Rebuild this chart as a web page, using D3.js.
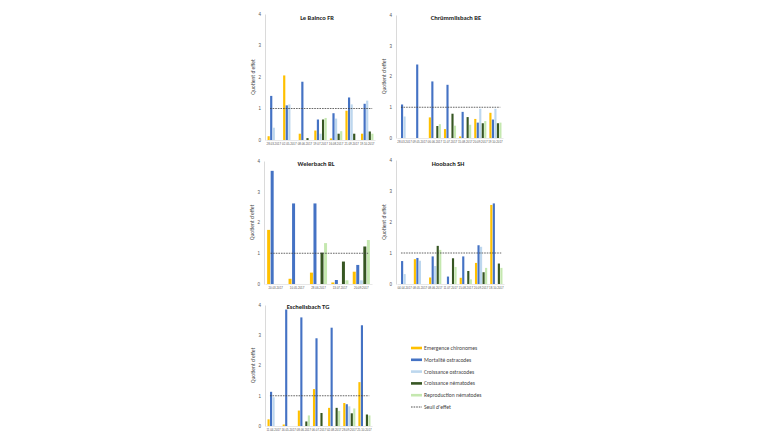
<!DOCTYPE html>
<html><head><meta charset="utf-8">
<script src="https://cdn.jsdelivr.net/npm/d3@7"></script>
<style>body{margin:0;background:#fff;}svg{display:block;font-family:Calibri,Carlito,"Liberation Sans",Arial,sans-serif;}</style>
</head><body>
<svg id="c" width="760" height="440"></svg>
<script>
const seriesNames = ["Emergence chironomes","Mortalité ostracodes","Croissance ostracodes","Croissance nématodes","Reproduction nématodes"];
const seriesColors = ["#FFC000","#4472C4","#BDD7EE","#375623","#C5E8B0"];
const yTicks = [0,1,2,3,4];
const threshold = 1;

const baincoDates = ["28.03.2017","02.05.2017","08.06.2017","19.07.2017","16.08.2017","21.09.2017","19.10.2017"];
const baincoEmergence = [0.12,2.05,0.2,0.3,0.05,0.93,0.2];
const baincoMortOstr = [1.4,1.1,1.85,0.65,0.85,1.35,1.15];
const baincoCroisOstr = [0.39,1.13,0,0.2,0.68,1.13,1.25];
const baincoCroisNema = [0,0,0.06,0.65,0.2,0.2,0.27];
const baincoReproNema = [0,0,0,0.7,0.28,0,0.2];

const chruDates = ["28.03.2017","09.05.2017","06.06.2017","11.07.2017","15.08.2017","20.09.2017","19.10.2017"];
const chruEmergence = [0,0,0.67,0.29,0.05,0.62,0.82];
const chruMortOstr = [1.09,2.39,1.84,1.73,0.85,0.5,0.6];
const chruCroisOstr = [0.7,0,0,0,0,0.95,0.95];
const chruCroisNema = [0,0,0.39,0.79,0.68,0.48,0.48];
const chruReproNema = [0,0,0.45,0.4,0.43,0.55,0.5];

const weierDates = ["20.03.2017","10.05.2017","28.06.2017","13.07.2017","20.09.2017"];
const weierEmergence = [1.76,0.17,0.37,0.05,0.4];
const weierMortOstr = [3.68,2.62,2.62,0.13,0.62];
const weierCroisOstr = [0,0,0,0,0.12];
const weierCroisNema = [0,0,1.02,0.73,1.22];
const weierReproNema = [0,0,1.33,0.12,1.43];

const hooDates = ["04.04.2017","08.05.2017","08.06.2017","11.07.2017","15.08.2017","20.09.2017","18.10.2017"];
const hooEmergence = [0,0.8,0.21,0,0.2,0.68,2.55];
const hooMortOstr = [0.74,0.84,0.89,0.24,0.89,1.25,2.6];
const hooCroisOstr = [0.32,0.75,0.58,0,0,1.2,0];
const hooCroisNema = [0,0,1.23,0.83,0.42,0.38,0.66];
const hooReproNema = [0,0,1.1,0.55,0.15,0.52,0.52];

const eschDates = ["11.04.2017","16.05.2017","08.06.2017","06.07.2017","02.08.2017","28.09.2017","25.10.2017"];
const eschEmergence = [0.22,0.05,0.51,1.22,0.6,0.76,1.45];
const eschMortOstr = [1.13,3.85,3.59,2.9,3.25,0.72,3.33];
const eschCroisOstr = [0.95,0,0,0,0,0.65,0];
const eschCroisNema = [0,0,0.15,0.43,0.6,0.42,0.38];
const eschReproNema = [0,0,0.35,0,0.5,0.58,0.35];

const panels = [
  {title:"Le Bainco FR", dates:baincoDates, series:[baincoEmergence,baincoMortOstr,baincoCroisOstr,baincoCroisNema,baincoReproNema], x0:265,x1:375,yt:14,yb:140, tx:317,ty:20},
  {title:"Chrümmlisbach BE", dates:chruDates, series:[chruEmergence,chruMortOstr,chruCroisOstr,chruCroisNema,chruReproNema], x0:396,x1:503,yt:15,yb:138, tx:456,ty:20},
  {title:"Weierbach BL", dates:weierDates, series:[weierEmergence,weierMortOstr,weierCroisOstr,weierCroisNema,weierReproNema], x0:264,x1:372,yt:161,yb:284, tx:316,ty:166},
  {title:"Hoobach SH", dates:hooDates, series:[hooEmergence,hooMortOstr,hooCroisOstr,hooCroisNema,hooReproNema], x0:396,x1:504,yt:160,yb:284, tx:448,ty:166},
  {title:"Eschelisbach TG", dates:eschDates, series:[eschEmergence,eschMortOstr,eschCroisOstr,eschCroisNema,eschReproNema], x0:265,x1:372,yt:305,yb:426, tx:308,ty:309}
];

const svg = d3.select("#c");

panels.forEach(p => {
  const g = svg.append("g");
  const x = d3.scaleBand().domain(p.dates).range([p.x0+1, p.x1]).paddingInner(0.2).paddingOuter(0.1);
  const sub = d3.scaleBand().domain(d3.range(5)).range([0, x.bandwidth()]).paddingInner(0.15);
  const y = d3.scaleLinear().domain([0,4]).range([p.yb, p.yt]);

  // y axis
  const ya = g.append("g").attr("transform",`translate(${p.x0},0)`)
    .call(d3.axisLeft(y).tickValues(yTicks).tickSize(0).tickPadding(4).tickFormat(d3.format("d")));
  ya.select(".domain").attr("stroke","#d0d0d0").attr("stroke-width",0.8);
  ya.selectAll("text").attr("font-size",4.5).attr("fill","#555");

  // x axis
  const xa = g.append("g").attr("transform",`translate(0,${p.yb})`)
    .call(d3.axisBottom(x).tickSize(0).tickPadding(3));
  xa.select(".domain").attr("stroke","#d9d9d9").attr("stroke-width",0.6);
  xa.selectAll("text").attr("font-size",2.9).attr("fill","#555");

  // bars
  p.dates.forEach((dt,i) => {
    p.series.forEach((s,k) => {
      const v = s[i];
      if (v <= 0) return;
      g.append("rect")
        .attr("x", x(dt) + sub(k))
        .attr("y", y(v))
        .attr("width", sub.bandwidth())
        .attr("height", y(0) - y(v))
        .attr("fill", seriesColors[k]);
    });
  });

  // threshold
  g.append("line")
    .attr("x1", x(p.dates[0]) + x.bandwidth()*0.2)
    .attr("x2", x(p.dates[p.dates.length-1]) + x.bandwidth()*0.9)
    .attr("y1", y(threshold)).attr("y2", y(threshold))
    .attr("stroke","#404040").attr("stroke-width",0.8).attr("stroke-dasharray","1.6,1");

  // title
  g.append("text").attr("x",p.tx).attr("y",p.ty).attr("text-anchor","middle")
    .attr("font-size",6.5).attr("font-weight","bold").attr("fill","#222").text(p.title);

  // y label
  const yl = p.x0 - 10;
  const ym = (p.yt + p.yb)/2;
  g.append("text").attr("transform",`translate(${yl},${ym}) rotate(-90)`).attr("text-anchor","middle")
    .attr("font-size",5.5).attr("fill","#444").text("Quotient d'effet");
});

// legend
const lg = svg.append("g").attr("transform","translate(411,348)");
seriesNames.forEach((n,k) => {
  const row = lg.append("g").attr("transform",`translate(0,${k*11.8})`);
  row.append("rect").attr("x",0).attr("y",-1.3).attr("width",11).attr("height",2.6).attr("fill",seriesColors[k]);
  row.append("text").attr("x",13).attr("y",2).attr("font-size",5.6).attr("fill","#444").text(n);
});
const row = lg.append("g").attr("transform",`translate(0,${5*11.8})`);
row.append("line").attr("x1",0).attr("x2",11).attr("y1",0).attr("y2",0).attr("stroke","#404040").attr("stroke-width",0.9).attr("stroke-dasharray","1.6,1");
row.append("text").attr("x",13).attr("y",2).attr("font-size",5.6).attr("fill","#444").text("Seuil d'effet");
</script>
</body></html>
